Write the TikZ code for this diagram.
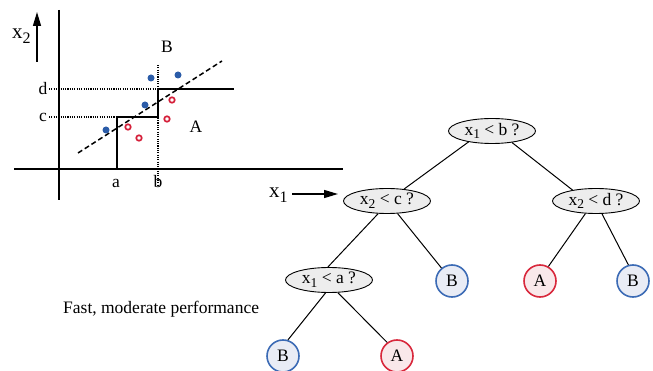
\documentclass[tikz,border=0pt]{standalone}
\usepackage{fontspec}
\setmainfont{Liberation Serif}
\usetikzlibrary{arrows.meta,shapes.geometric}
\definecolor{dotblue}{HTML}{2B5CA8}
\definecolor{dotred}{HTML}{D5203A}
\definecolor{leafblue}{HTML}{3C6BB5}
\definecolor{leafbluefill}{HTML}{E9ECF5}
\definecolor{leafred}{HTML}{D8283C}
\definecolor{leafredfill}{HTML}{F9E8EA}
\definecolor{testfill}{HTML}{EDEDED}
\newcommand\mysub[1]{\raisebox{-0.45ex}{\fontsize{13.5}{13.5}\selectfont #1}}
\newcommand\axsub[1]{\raisebox{-0.5ex}{\fontsize{16}{16}\selectfont #1}}
\tikzset{
  txt/.style={font=\fontsize{17.5}{17.5}\selectfont, inner sep=0pt},
  axlbl/.style={font=\fontsize{21}{21}\selectfont, inner sep=0pt},
  test/.style={ellipse, draw=black, line width=0.9pt, fill=testfill, minimum width=87pt, minimum height=25pt, inner sep=0pt, font=\fontsize{17.5}{17.5}\selectfont},
  leafB/.style={circle, draw=leafblue, line width=1.6pt, fill=leafbluefill, minimum size=32pt, inner sep=0pt, font=\fontsize{17.5}{17.5}\selectfont},
  leafA/.style={circle, draw=leafred, line width=1.6pt, fill=leafredfill, minimum size=32pt, inner sep=0pt, font=\fontsize{17.5}{17.5}\selectfont},
  edge/.style={line width=1pt},
  axis/.style={line width=2.2pt},
  region/.style={line width=1.5pt},
  guide/.style={line width=1.1pt, dash pattern=on 1.1pt off 1.2pt},
  sep/.style={line width=1.5pt, dash pattern=on 5pt off 3pt},
  bdot/.style={circle, fill=dotblue, inner sep=0pt, minimum size=7pt},
  rdot/.style={circle, draw=dotred, line width=1.7pt, inner sep=0pt, minimum size=5.5pt},
  axarrow/.style={line width=1.3pt, -{Triangle[length=14pt,width=8pt]}}
}
\begin{document}
\begin{tikzpicture}[x=1pt,y=-1pt]
\useasboundingbox (0,0) rectangle (653,371);
% axes
\draw[axis] (59,10) -- (59,200);
\draw[axis] (14,169) -- (343,169);
\coordinate (x2s) at (37,62);
\coordinate (x2e) at (37,12);
\draw[axarrow] (x2s) -- (x2e);
\coordinate (x1s) at (292,194);
\coordinate (x1e) at (338,194);
\draw[axarrow] (x1s) -- (x1e);
\node[axlbl, anchor=base west] (lx2) at (12,39) {x\axsub{2}};
\node[axlbl, anchor=base west] (lx1) at (269,198) {x\axsub{1}};
% guides
\coordinate (dl) at (49,89);
\coordinate (dr) at (158,89);
\coordinate (cl) at (49,117);
\coordinate (cr) at (117,117);
\coordinate (bt) at (158,65);
\coordinate (bb) at (158,186);
\draw[guide] (dl) -- (dr);
\draw[guide] (cl) -- (cr);
\draw[guide] (bt) -- (bb);
% region boundary
\coordinate (r1) at (117,169);
\coordinate (r2) at (117,117);
\coordinate (r3) at (158,117);
\coordinate (r4) at (158,89);
\coordinate (r5) at (234,89);
\draw[region] (r1) -- (r2) -- (r3) -- (r4) -- (r5);
% separator
\coordinate (s1) at (78,153);
\coordinate (s2) at (222,61);
\draw[sep] (s1) -- (s2);
% labels
\node[txt] (ld) at (43,89) {d};
\node[txt] (lc) at (43,117) {c};
\node[txt, anchor=base] (la) at (116,188) {a};
\node[txt, anchor=base] (lb) at (158,188) {b};
\node[txt] (lB) at (167,47) {B};
\node[txt] (lA) at (196,127) {A};
% points
\node[bdot] (p1) at (151,78) {};
\node[bdot] (p2) at (178,75) {};
\node[bdot] (p3) at (145,105) {};
\node[bdot] (p4) at (106,130) {};
\node[rdot] (q1) at (172,100) {};
\node[rdot] (q2) at (167,119) {};
\node[rdot] (q3) at (128,127) {};
\node[rdot] (q4) at (139,138) {};
% caption
\node[txt, anchor=base west] (cap) at (63,313) {Fast, moderate performance};
% tree
\node[test] (root) at (492,131) {x\mysub{1} < b ?};
\node[test] (tc) at (387,201) {x\mysub{2} < c ?};
\node[test] (td) at (596,201) {x\mysub{2} < d ?};
\node[test] (ta) at (329,280) {x\mysub{1} < a ?};
\node[leafB] (l1) at (452,281) {B};
\node[leafA] (l2) at (540,281) {A};
\node[leafB] (l3) at (633,281) {B};
\node[leafB] (l4) at (283,356) {B};
\node[leafA] (l5) at (397,356) {A};
\draw[edge] (root.205) -- (tc.35);
\draw[edge] (root.330) -- (td.155);
\draw[edge] (tc.235) -- (ta.95);
\draw[edge] (tc.310) -- (l1.129);
\draw[edge] (td.230) -- (l2.60);
\draw[edge] (td.295) -- (l3.106);
\draw[edge] (ta.255) -- (l4.73);
\draw[edge] (ta.305) -- (l5.126);
\end{tikzpicture}
\end{document}
